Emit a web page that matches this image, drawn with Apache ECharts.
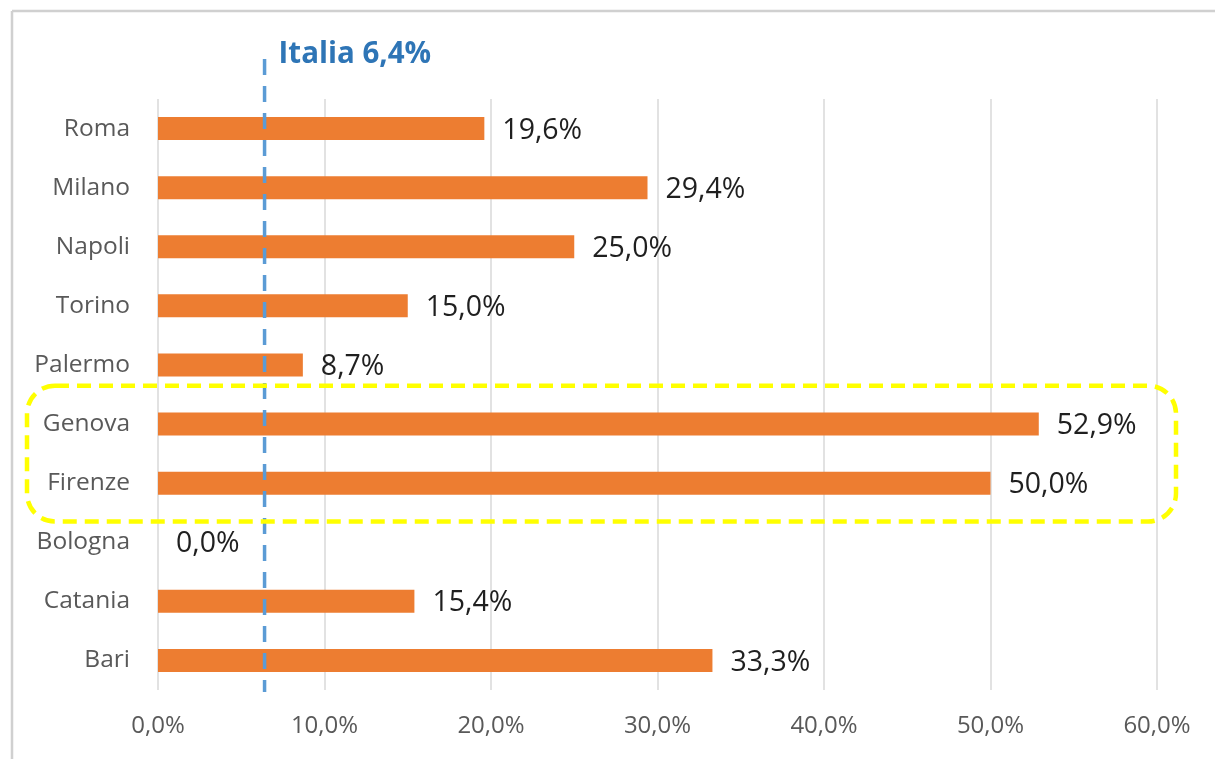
<!DOCTYPE html>
<html>
<head>
<meta charset="utf-8">
<script src="https://cdn.jsdelivr.net/npm/echarts@6/dist/echarts.min.js"></script>
<style>
html,body{margin:0;padding:0;background:#fff;}
#c{width:1215px;height:759px;}
</style>
</head>
<body>
<div id="c"></div>
<script>
const cities = ['Roma','Milano','Napoli','Torino','Palermo','Genova','Firenze','Bologna','Catania','Bari'];
const values = [19.6, 29.4, 25.0, 15.0, 8.7, 52.9, 50.0, 0.0, 15.4, 33.3];
const italia = 6.4;
const italiaLabel = 'Italia 6,4%';
const highlighted = ['Genova','Firenze'];
const xTicks = {min: 0, max: 60, interval: 10};

const fmt = v => v.toFixed(1).replace('.', ',') + '%';
const FONT = '"Open Sans", "Noto Sans", sans-serif';

const chart = echarts.init(document.getElementById('c'), null, {renderer: 'canvas'});
const option = {
  backgroundColor: '#ffffff',
  animation: false,
  grid: {left: 158, right: 58, top: 99, bottom: 69, containLabel: false},
  xAxis: {
    type: 'value', min: xTicks.min, max: xTicks.max, interval: xTicks.interval,
    axisLine: {show: false}, axisTick: {show: false},
    splitLine: {show: true, lineStyle: {color: '#d9d9d9', width: 1.5}},
    axisLabel: {formatter: v => fmt(v), color: '#595959', fontSize: 24, fontFamily: FONT, margin: 24}
  },
  yAxis: {
    type: 'category', data: cities, inverse: true,
    axisLine: {show: false}, axisTick: {show: false},
    axisLabel: {color: '#595959', fontSize: 24.5, fontFamily: FONT, margin: 28}
  },
  series: [{
    type: 'bar', data: values, barWidth: 23,
    itemStyle: {color: '#ED7D31'},
    label: {show: true, position: 'right', distance: 18, offset: [0, 2], formatter: p => fmt(p.value),
      color: '#1f1f1f', fontSize: 28.5, fontFamily: FONT}
  }]
};
chart.setOption(option);

const xPix = chart.convertToPixel({xAxisIndex: 0}, italia);
const yA = chart.convertToPixel({yAxisIndex: 0}, highlighted[0]);
const yB = chart.convertToPixel({yAxisIndex: 0}, highlighted[1]);
const band = yB - yA;
const yMid = (yA + yB) / 2;
const rectTop = yMid - band * 1.15;
const rectH = band * 2.3;

chart.setOption({
  graphic: [
    {type: 'line', shape: {x1: 12, y1: 11, x2: 1215, y2: 11}, style: {stroke: '#d0d0d0', lineWidth: 2.5}, silent: true},
    {type: 'line', shape: {x1: 12, y1: 11, x2: 12, y2: 759}, style: {stroke: '#d0d0d0', lineWidth: 2.5}, silent: true},
    {type: 'line', z: 100, shape: {x1: xPix, y1: 59, x2: xPix, y2: 692},
      style: {stroke: '#5B9BD5', lineWidth: 3.5, lineDash: [16, 11]}, silent: true},
    {type: 'text', z: 100, x: xPix + 14, y: 55,
      style: {text: italiaLabel, fill: '#2E75B6', font: 'bold 29.5px "Open Sans", sans-serif', textVerticalAlign: 'middle', verticalAlign: 'middle'}},
    {type: 'rect', z: 100, shape: {x: 27, y: rectTop, width: 1149, height: rectH, r: 28},
      style: {fill: 'none', stroke: '#FFFF00', lineWidth: 4.5, lineDash: [14, 8]}, silent: true}
  ]
});
</script>
</body>
</html>
